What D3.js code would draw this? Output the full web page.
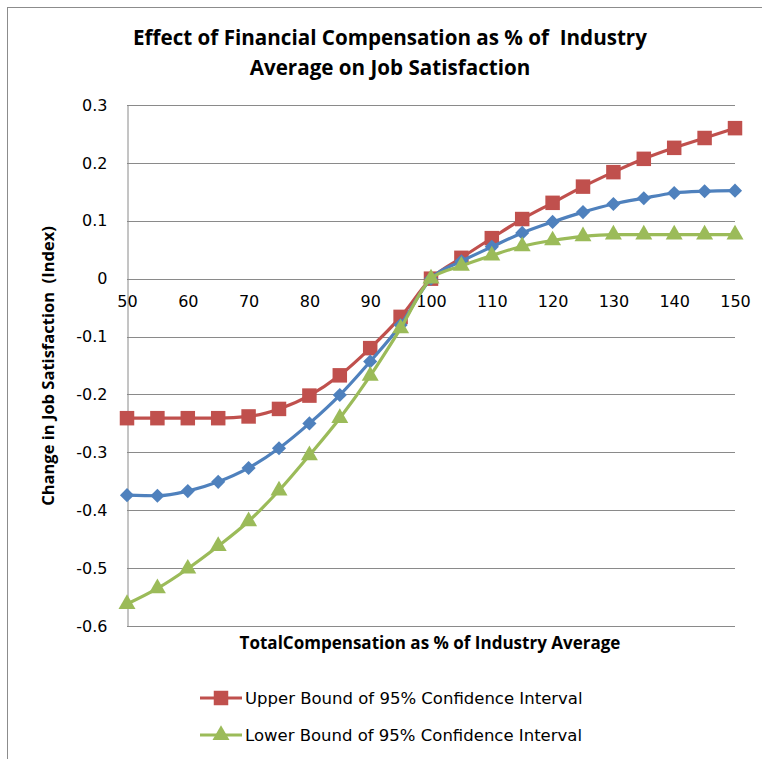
<!DOCTYPE html>
<html>
<head>
<meta charset="utf-8">
<script src="https://cdnjs.cloudflare.com/ajax/libs/d3/7.8.5/d3.min.js"></script>
<style>
  body { margin: 0; background: #fff; }
  svg text { fill: #000; }
</style>
</head>
<body>
<div id="chart"></div>
<script>
const width = 762;
const height = 759;

const xValues = [50, 55, 60, 65, 70, 75, 80, 85, 90, 95, 100, 105, 110, 115, 120, 125, 130, 135, 140, 145, 150];
const upperBound = [-0.241, -0.241, -0.241, -0.241, -0.238, -0.225, -0.202, -0.167, -0.120, -0.066, 0, 0.036, 0.070, 0.103, 0.131, 0.159, 0.184, 0.207, 0.226, 0.243, 0.260];
const estimate = [-0.374, -0.375, -0.367, -0.351, -0.327, -0.293, -0.250, -0.201, -0.143, -0.080, 0, 0.030, 0.055, 0.079, 0.098, 0.115, 0.129, 0.139, 0.148, 0.151, 0.152];
const lowerBound = [-0.562, -0.535, -0.501, -0.462, -0.419, -0.366, -0.305, -0.241, -0.168, -0.086, 0, 0.022, 0.040, 0.056, 0.066, 0.073, 0.076, 0.076, 0.076, 0.076, 0.076];
const xTicks = [50, 60, 70, 80, 90, 100, 110, 120, 130, 140, 150];
const yTicks = [0.3, 0.2, 0.1, 0, -0.1, -0.2, -0.3, -0.4, -0.5, -0.6];

const series = [
  { name: "Upper Bound of 95% Confidence Interval", values: upperBound, color: "#C0504D", marker: d3.symbolSquare, size: 210, rot: 0 },
  { name: "Estimate", values: estimate, color: "#4F81BD", marker: d3.symbolSquare, size: 100, rot: 45 },
  { name: "Lower Bound of 95% Confidence Interval", values: lowerBound, color: "#9BBB59", marker: d3.symbolTriangle, size: 125, rot: 0 }
];
const legendItems = [series[0], series[2]];

const plot = { left: 127, right: 735, top: 105, bottom: 626 };

const svg = d3.select("#chart").append("svg")
  .attr("xmlns", "http://www.w3.org/2000/svg")
  .attr("width", width)
  .attr("height", height);

// shrink/grow a bold label until it spans the width seen in the original
function fitWidth(sel, target) {
  const node = sel.node();
  const fs = parseFloat(sel.attr("font-size"));
  const w = node.getComputedTextLength();
  if (w > 0) sel.attr("font-size", (fs * target / w).toFixed(2));
  return sel;
}

// chart frame
svg.append("rect")
  .attr("x", 7.5).attr("y", 7.5)
  .attr("width", 780).attr("height", 780)
  .attr("fill", "#fff")
  .attr("stroke", "#8c8c8c");

const x = d3.scaleLinear().domain([50, 150]).range([plot.left, plot.right]);
const y = d3.scaleLinear().domain([-0.6, 0.3]).range([plot.bottom, plot.top]);

// gridlines
svg.append("g")
  .selectAll("line")
  .data(yTicks)
  .enter()
  .append("line")
  .attr("x1", plot.left).attr("x2", plot.right)
  .attr("y1", d => Math.round(y(d)) + 0.5)
  .attr("y2", d => Math.round(y(d)) + 0.5)
  .attr("stroke", "#8a8a8a")
  .attr("stroke-width", 1);

// y axis (plain hyphen like the original, not unicode minus)
const yAxis = svg.append("g")
  .attr("transform", "translate(" + (plot.left + 0.5) + ",0)")
  .call(d3.axisLeft(y).tickValues(yTicks).tickSize(0).tickPadding(20)
    .tickFormat(d => d === 0 ? "0" : d3.format(".1f")(d).replace("\u2212", "-")));
yAxis.select(".domain").attr("stroke", "#8a8a8a");
yAxis.selectAll("text")
  .attr("font-family", "DejaVu Sans, Verdana, sans-serif")
  .attr("font-size", 16)
  .attr("fill", "#000");

// x axis labels sit under the zero line
const xAxis = svg.append("g")
  .attr("transform", "translate(0," + (Math.round(y(0)) + 0.5) + ")")
  .call(d3.axisBottom(x).tickValues(xTicks).tickSize(0).tickPadding(16));
xAxis.select(".domain").remove();
xAxis.selectAll("text")
  .attr("font-family", "DejaVu Sans, Verdana, sans-serif")
  .attr("font-size", 16)
  .attr("fill", "#000");

// lines + markers
const line = d3.line()
  .x((d, i) => x(xValues[i]))
  .y(d => y(d))
  .curve(d3.curveMonotoneX);

series.forEach(function (s) {
  const g = svg.append("g");
  g.append("path")
    .datum(s.values)
    .attr("d", line)
    .attr("fill", "none")
    .attr("stroke", s.color)
    .attr("stroke-width", 3.2)
    .attr("stroke-linejoin", "round");
  g.selectAll("path.marker")
    .data(s.values)
    .enter()
    .append("path")
    .attr("class", "marker")
    .attr("d", d3.symbol().type(s.marker).size(s.size))
    .attr("transform", (d, i) => "translate(" + x(xValues[i]) + "," + y(d) + ") rotate(" + s.rot + ")")
    .attr("fill", s.color);
});

// title
const titleLines = ["Effect of Financial Compensation as % of  Industry", "Average on Job Satisfaction"];
const title = svg.append("text")
  .attr("x", 390).attr("y", 0)
  .attr("text-anchor", "middle")
  .attr("font-family", "Open Sans, Lato, sans-serif")
  .attr("font-weight", "bold")
  .attr("font-size", 20)
  .style("white-space", "pre");
title.selectAll("tspan")
  .data(titleLines)
  .enter()
  .append("tspan")
  .attr("x", 390)
  .attr("y", (d, i) => 45 + i * 30)
  .text(d => d);
{
  const w = title.select("tspan").node().getComputedTextLength();
  if (w > 0) title.attr("font-size", (20 * 514 / w).toFixed(2));
}

// axis titles
fitWidth(svg.append("text")
  .attr("x", 430).attr("y", 649)
  .attr("text-anchor", "middle")
  .attr("font-family", "Open Sans, Lato, sans-serif")
  .attr("font-weight", "bold")
  .attr("font-size", 16)
  .text("TotalCompensation as % of Industry Average"), 381);

fitWidth(svg.append("text")
  .attr("transform", "translate(54,366) rotate(-90)")
  .attr("text-anchor", "middle")
  .attr("font-family", "Open Sans, Lato, sans-serif")
  .attr("font-weight", "bold")
  .attr("font-size", 16)
  .style("white-space", "pre")
  .text("Change in Job Satisfaction  (Index)"), 280);

// legend
const legend = svg.append("g")
  .selectAll("g")
  .data(legendItems)
  .enter()
  .append("g")
  .attr("transform", (d, i) => "translate(200," + (698 + i * 37) + ")");
legend.append("line")
  .attr("x1", 0).attr("x2", 42)
  .attr("stroke", d => d.color)
  .attr("stroke-width", 3.2);
legend.append("path")
  .attr("d", d => d3.symbol().type(d.marker).size(d.size)())
  .attr("transform", "translate(21,0)")
  .attr("fill", d => d.color);
legend.append("text")
  .attr("x", 45).attr("y", 6)
  .attr("font-family", "DejaVu Sans, Verdana, sans-serif")
  .attr("font-size", 16.5)
  .text(d => d.name);
</script>
</body>
</html>
